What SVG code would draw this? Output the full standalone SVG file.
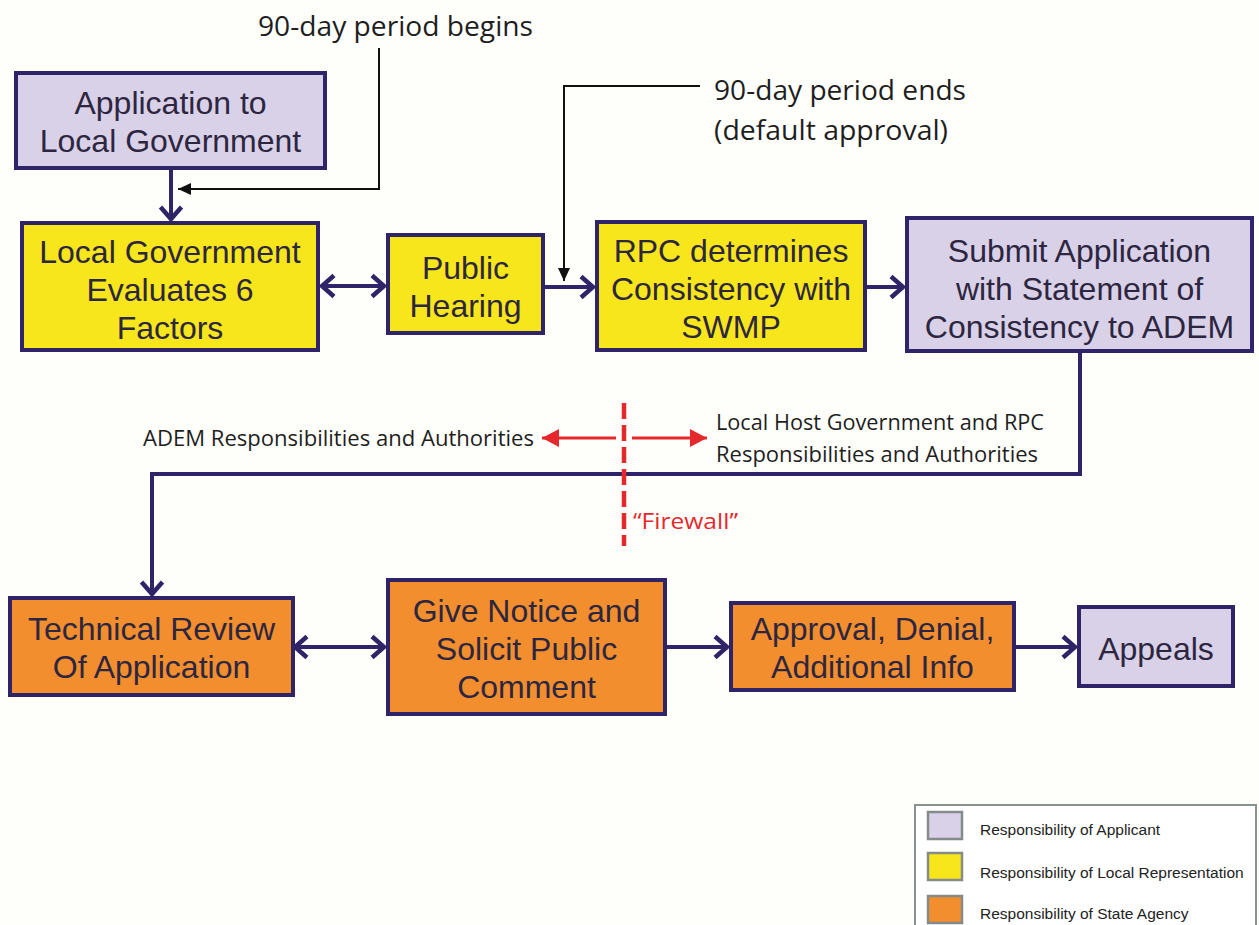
<svg xmlns="http://www.w3.org/2000/svg" width="1259" height="925" viewBox="0 0 1259 925">
<style>
.box{stroke:#2f2468;stroke-width:4}
.lav{fill:#d9d1e7}
.yel{fill:#f6e61b}
.org{fill:#f28e2e}
.bt{font-family:"Liberation Sans",Arial,sans-serif;font-size:32px;fill:#2d2640;text-anchor:middle}
.ann{font-family:"Open Sans","Noto Sans",sans-serif;fill:#1e1e1e}
.conn{stroke:#2f2468;stroke-width:4;fill:none}
.blk{stroke:#111;stroke-width:2;fill:none}
.red{stroke:#e5282b;stroke-width:3;fill:none}
.lt{font-family:"Liberation Sans",Arial,sans-serif;font-size:15.5px;fill:#222}
.sw{stroke:#858a8a;stroke-width:2.5}
</style>
<defs>
<marker id="pa" markerUnits="userSpaceOnUse" markerWidth="20" markerHeight="26" refX="15" refY="13" orient="auto-start-reverse" overflow="visible">
<path d="M3,2.5 L15,13 L3,23.5" fill="none" stroke="#2f2468" stroke-width="4.5" stroke-linejoin="miter"/>
</marker>
<marker id="ba" markerUnits="userSpaceOnUse" markerWidth="14" markerHeight="12" refX="13" refY="6" orient="auto" overflow="visible">
<path d="M0,0 L13,6 L0,12 z" fill="#111"/>
</marker>
<marker id="ra" markerUnits="userSpaceOnUse" markerWidth="18" markerHeight="18" refX="17" refY="9" orient="auto-start-reverse" overflow="visible">
<path d="M0,0 L17,9 L0,18 z" fill="#e5282b"/>
</marker>
</defs>
<rect width="1259" height="925" fill="#fefefb"/>

<g id="connectors">
<line class="conn" x1="171" y1="168" x2="171" y2="219" marker-end="url(#pa)"/>
<line class="conn" x1="322" y1="286" x2="384" y2="286" marker-start="url(#pa)" marker-end="url(#pa)"/>
<line class="conn" x1="545" y1="287" x2="593" y2="287" marker-end="url(#pa)"/>
<line class="conn" x1="867" y1="287" x2="903" y2="287" marker-end="url(#pa)"/>
<polyline class="conn" points="1080,352 1080,474 152,474 152,594" marker-end="url(#pa)"/>
<line class="conn" x1="295" y1="647" x2="384" y2="647" marker-start="url(#pa)" marker-end="url(#pa)"/>
<line class="conn" x1="667" y1="647" x2="727" y2="647" marker-end="url(#pa)"/>
<line class="conn" x1="1016" y1="647" x2="1075" y2="647" marker-end="url(#pa)"/>
<polyline class="blk" points="379,48 379,189 178,189" marker-end="url(#ba)"/>
<polyline class="blk" points="700,86 564,86 564,281" marker-end="url(#ba)"/>
<line stroke="#e5282b" stroke-width="4.5" stroke-dasharray="16,6" x1="624" y1="403" x2="624" y2="546"/>
<line class="red" x1="616" y1="438" x2="542" y2="438" marker-end="url(#ra)"/>
<line class="red" x1="632" y1="438" x2="707" y2="438" marker-end="url(#ra)"/>
</g>

<g id="annotations">
<text class="ann" x="258" y="36" font-size="28" textLength="275" lengthAdjust="spacingAndGlyphs">90-day period begins</text>
<text class="ann" x="714" y="100" font-size="28" textLength="252" lengthAdjust="spacingAndGlyphs">90-day period ends</text>
<text class="ann" x="714" y="140" font-size="28" textLength="234" lengthAdjust="spacingAndGlyphs">(default approval)</text>
<text class="ann" x="143" y="446" font-size="21" textLength="391" lengthAdjust="spacingAndGlyphs">ADEM Responsibilities and Authorities</text>
<text class="ann" x="716" y="430" font-size="21" textLength="328" lengthAdjust="spacingAndGlyphs">Local Host Government and RPC</text>
<text class="ann" x="716" y="462" font-size="21" textLength="322" lengthAdjust="spacingAndGlyphs">Responsibilities and Authorities</text>
<text class="ann" x="633" y="529" font-size="21" style="fill:#e5282b" textLength="105" lengthAdjust="spacingAndGlyphs">“Firewall”</text>
</g>

<g id="n-application">
<rect class="box lav" x="16" y="73" width="309" height="95"/>
<text class="bt" x="170.5" y="114">Application to</text>
<text class="bt" x="170.5" y="152">Local Government</text>
</g>
<g id="n-evaluate">
<rect class="box yel" x="22" y="223" width="296" height="127"/>
<text class="bt" x="170" y="263">Local Government</text>
<text class="bt" x="170" y="301">Evaluates 6</text>
<text class="bt" x="170" y="339">Factors</text>
</g>
<g id="n-hearing">
<rect class="box yel" x="388" y="235" width="155" height="98"/>
<text class="bt" x="465.5" y="279">Public</text>
<text class="bt" x="465.5" y="317">Hearing</text>
</g>
<g id="n-rpc">
<rect class="box yel" x="597" y="222" width="268" height="128"/>
<text class="bt" x="731" y="262">RPC determines</text>
<text class="bt" x="731" y="300">Consistency with</text>
<text class="bt" x="731" y="338">SWMP</text>
</g>
<g id="n-submit">
<rect class="box lav" x="907" y="218" width="345" height="133"/>
<text class="bt" x="1079.5" y="262">Submit Application</text>
<text class="bt" x="1079.5" y="300">with Statement of</text>
<text class="bt" x="1079.5" y="338">Consistency to ADEM</text>
</g>
<g id="n-technical">
<rect class="box org" x="10" y="598" width="283" height="97"/>
<text class="bt" x="151.5" y="640">Technical Review</text>
<text class="bt" x="151.5" y="678">Of Application</text>
</g>
<g id="n-notice">
<rect class="box org" x="388" y="580" width="277" height="134"/>
<text class="bt" x="526.5" y="622">Give Notice and</text>
<text class="bt" x="526.5" y="660">Solicit Public</text>
<text class="bt" x="526.5" y="698">Comment</text>
</g>
<g id="n-approval">
<rect class="box org" x="731" y="603" width="283" height="87"/>
<text class="bt" x="872.5" y="640">Approval, Denial,</text>
<text class="bt" x="872.5" y="678">Additional Info</text>
</g>
<g id="n-appeals">
<rect class="box lav" x="1079" y="607" width="154" height="79"/>
<text class="bt" x="1156" y="660">Appeals</text>
</g>

<g id="legend">
<rect x="915" y="805" width="341" height="130" fill="#ffffff" stroke="#8a9191" stroke-width="2"/>
<rect class="sw lav" x="928" y="812" width="34" height="27"/>
<rect class="sw yel" x="928" y="853" width="34" height="27"/>
<rect class="sw org" x="928" y="896" width="34" height="27"/>
<text class="lt" x="980" y="835">Responsibility of Applicant</text>
<text class="lt" x="980" y="878">Responsibility of Local Representation</text>
<text class="lt" x="980" y="919">Responsibility of State Agency</text>
</g>
</svg>
